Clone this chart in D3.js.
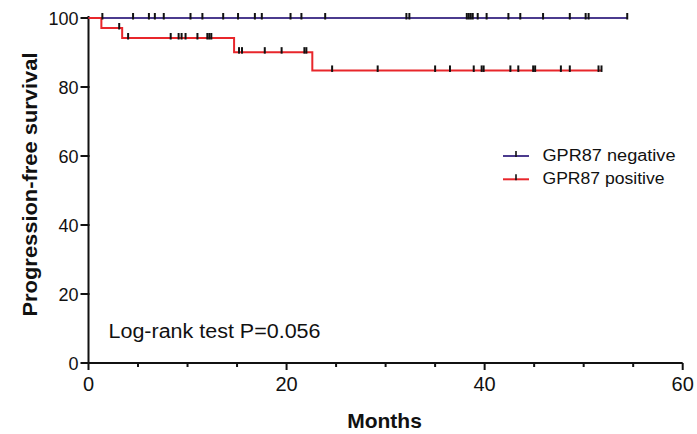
<!DOCTYPE html>
<html>
<head>
<meta charset="utf-8">
<script src="https://cdn.jsdelivr.net/npm/d3@7"></script>
<style>
  body { margin: 0; background: #fff; }
  svg text { font-family: "Liberation Sans", Arial, sans-serif; fill: #111; }
</style>
</head>
<body>
<svg width="697" height="434"></svg>
<script>
// GPR87 negative: no events, only censored times (months)
var negEnd = 54.4;
var negCensor = [1.4, 4.5, 6.1, 6.7, 7.6, 10.3, 11.5, 13.6, 15.1, 16.8, 17.5, 20.4, 21.5, 23.9,
  32.1, 32.4, 38.2, 38.4, 38.6, 38.8, 39.3, 40.2, 42.4, 43.6, 45.9, 48.6, 50.2, 50.5, 54.4];

// GPR87 positive: step times and survival (%)
var posTimes = [0, 1.3, 3.4, 14.7, 22.6];
var posSurv = [100, 97.1, 94.2, 90.1, 84.8];
var posEnd = 51.8;
var posCensor = [3.1, 4.0, 8.3, 9.1, 9.4, 9.8, 11.0, 12.0, 12.2, 12.4, 15.2, 15.5, 17.8, 19.5,
  21.8, 22.0, 24.6, 29.2, 35.0, 36.5, 38.9, 39.7, 39.9, 42.6, 43.4, 44.9, 45.1, 47.7, 48.6, 51.5, 51.8];

var xTicks = [0, 20, 40, 60];
var xMinor = [5, 10, 15, 25, 30, 35, 45, 50, 55];
var yTicks = [0, 20, 40, 60, 80, 100];

var colNeg = "#4b3b8e", colPos = "#e8262b";

var svg = d3.select("svg");

var x = d3.scaleLinear().domain([0, 60]).range([88.5, 682.7]);
var y = d3.scaleLinear().domain([0, 100]).range([363, 18]);

// survival at time t from a step list
function survAt(times, surv, t) {
  var s = surv[0];
  times.forEach(function(tt, i) { if (tt <= t) s = surv[i]; });
  return s;
}

var line = d3.line()
  .x(function(d) { return x(d[0]); })
  .y(function(d) { return y(d[1]); })
  .curve(d3.curveStepAfter);

// axes
var xAxis = svg.append("g").attr("transform", "translate(0,363)");
xAxis.append("line").attr("x1", x(0)).attr("x2", x(60)).attr("stroke", "#111").attr("stroke-width", 2);
xAxis.selectAll(".major").data(xTicks).enter().append("line")
  .attr("x1", d => x(d)).attr("x2", d => x(d)).attr("y1", 0).attr("y2", 7)
  .attr("stroke", "#111").attr("stroke-width", 2);
xAxis.selectAll(".minor").data(xMinor).enter().append("line")
  .attr("x1", d => x(d)).attr("x2", d => x(d)).attr("y1", 0).attr("y2", 4)
  .attr("stroke", "#111").attr("stroke-width", 2);
xAxis.selectAll("text").data(xTicks).enter().append("text")
  .attr("x", d => x(d)).attr("y", 28).attr("text-anchor", "middle")
  .style("font-size", "20px").text(d => d);

var yAxis = svg.append("g").attr("transform", "translate(88.5,0)");
yAxis.append("line").attr("y1", y(0) + 1).attr("y2", y(100) - 2).attr("stroke", "#111").attr("stroke-width", 2);
yAxis.selectAll(".tick").data(yTicks).enter().append("line")
  .attr("x1", -8).attr("x2", 1).attr("y1", d => y(d)).attr("y2", d => y(d))
  .attr("stroke", "#111").attr("stroke-width", 2);
yAxis.selectAll("text").data(yTicks).enter().append("text")
  .attr("x", -10).attr("y", d => y(d) + 6.5).attr("text-anchor", "end")
  .style("font-size", "18px").text(d => d);

// titles
svg.append("text").attr("x", 384.5).attr("y", 428).attr("text-anchor", "middle")
  .style("font-size", "21px").style("font-weight", "bold").text("Months");
svg.append("text").attr("transform", "translate(36.5,184.5) rotate(-90)")
  .attr("text-anchor", "middle").attr("textLength", 264).attr("lengthAdjust", "spacingAndGlyphs")
  .style("font-size", "21px").style("font-weight", "bold").text("Progression-free survival");

svg.append("text").attr("x", 108.5).attr("y", 338)
  .attr("textLength", 212).attr("lengthAdjust", "spacingAndGlyphs")
  .style("font-size", "20px").text("Log-rank test P=0.056");

// curves
var negPts = [[0, 100], [negEnd, 100]];
var posPts = posTimes.map((t, i) => [t, posSurv[i]]).concat([[posEnd, posSurv[posSurv.length - 1]]]);

var curves = [
  {name: "GPR87 negative", color: colNeg, pts: negPts, censor: negCensor, times: [0], surv: [100]},
  {name: "GPR87 positive", color: colPos, pts: posPts, censor: posCensor, times: posTimes, surv: posSurv}
];

curves.forEach(function(c) {
  svg.append("path").attr("d", line(c.pts))
    .attr("fill", "none").attr("stroke", c.color).attr("stroke-width", 2);
});

curves.forEach(function(c) {
  svg.append("g").selectAll("line").data(c.censor).enter().append("line")
    .attr("x1", d => x(d)).attr("x2", d => x(d))
    .attr("y1", d => y(survAt(c.times, c.surv, d)) - 5)
    .attr("y2", d => y(survAt(c.times, c.surv, d)) + 1.5)
    .attr("stroke", "#111").attr("stroke-width", 2);
});

// legend
var legend = svg.append("g").attr("transform", "translate(503,156)");
var item = legend.selectAll("g").data(curves).enter().append("g")
  .attr("transform", (d, i) => "translate(0," + (i * 23.3) + ")");
item.append("line").attr("x1", 0).attr("x2", 26)
  .attr("stroke", d => d.color).attr("stroke-width", 2);
item.append("line").attr("x1", 13).attr("x2", 13).attr("y1", -5).attr("y2", 1)
  .attr("stroke", "#111").attr("stroke-width", 1.6);
var lens = [133, 122];
item.append("text").attr("x", 39.5).attr("y", 5)
  .attr("textLength", (d, i) => lens[i]).attr("lengthAdjust", "spacingAndGlyphs")
  .style("font-size", "16px").text(d => d.name);
</script>
</body>
</html>
